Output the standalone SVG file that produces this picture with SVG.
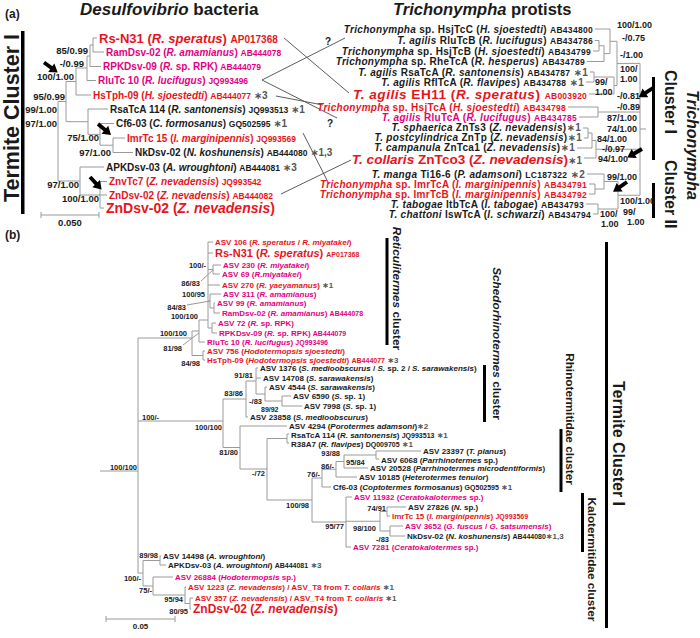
<svg xmlns="http://www.w3.org/2000/svg" width="700" height="638" viewBox="0 0 700 638">
<style>
text{font-family:"Liberation Sans","DejaVu Sans",Arial,sans-serif;font-weight:bold;fill:#1a1a1a}
.i{font-style:italic}
.r{fill:#e8141c}
.m{fill:#e4007f}
.k{fill:#1a1a1a}
.st{fill:#555}
.la{font-size:10px}
.ra{font-size:10px;letter-spacing:0.3px}
.lb{font-size:8px}
.sa{font-size:9.5px}
.sr{font-size:9px}
.sb{font-size:7.5px}
.a85{font-size:8.5px}
.a8{font-size:8.5px}
.a7{font-size:7px}
.e{text-anchor:end}
.mid{text-anchor:middle}
.tree{fill:none;stroke:#9a9a9a;stroke-width:1}
.link{fill:none;stroke:#4a4a4a;stroke-width:0.9}
.bar{fill:#000}
.ttl{font-size:16px}
</style>
<defs>
<path id="arw" d="M0,-1.9H9V-5.2L17,0L9,5.2V1.9H0Z" fill="#000"/>
</defs>

<g id="headings">
<text x="5" y="18" style="font-size:12px">(a)</text>
<text x="80" y="15" style="font-size:17px"><tspan class="i">Desulfovibrio</tspan> bacteria</text>
<text x="393" y="15" style="font-size:16.5px"><tspan class="i">Trichonympha</tspan> protists</text>
<text x="5" y="239" style="font-size:12px">(b)</text>
</g>

<g id="connectors">
<path class="tree" d="M93,38V52M90,45V66.5M90,45H93M87,56V80.5M87,56H90M76,68V95M76,68H87M66,81.5V121.5M66,81.5H76M66,121.7H88M88,109V134.4M88,134.4H100M100,123.5V145.2M100,145.2H113M113,138V152.5M100,181.5V208M80,167V195M80,195H100M58,101.5V181M58,101.5H66M58,181H80
M93,38H97M93,52H104M90,66.5H101M87,80.5H96M76,95H91M88,109H108M100,123.5H114M113,138H125M113,152.5H133M80,167H104M100,181.5H107M100,195H107M100,208H104"/>
<path class="tree" d="M41,215H99M41,212V218M99,212V218"/>
<path class="tree" d="M599,40.5V51M604,45.75V61.5M599,45.75H604M610,29V53.6M604,53.6H610M594,72V82M614,77V94M594,77H614M617,41.3V85.5M610,41.3H617M614,85.5H617M598,107V117M588,128V138M592,133V148M588,133H592M596,140.5V158M592,140.5H596M595,184V194M604,174V189M595,189H604M598,204V214M618,181.5V209M604,181.5H618M598,209H618M640,63.4V195.25M617,63.4H640M598,112H640M596,149.25H640M618,195.25H640M640,129H646
M595,29H610M595,40.5H599M593,51H599M587,61.5H604M590,72H594M586,82H594M589,94H614M568,107H598M579,117H598M583,128H588M584,138H588M577,148H592M584,158H596M587,174H604M589,184H595M589,194H595M586,204H598M593,214H598"/>
<path class="link" d="M284,38L349,93M262,80L345,38M262,80L337,118M276,96L323,105M303,133L329,184M281,194L351,160"/>
<path class="tree" d="M208,242H213M208,253H213M213,265H221M213,274H220M213,265V274M208,269.5H213M208,285H220M210,294H221M210,294V308M214,303H215M214,313H220M214,303V313M210,308H214M208,301H210M212,323H216M212,333H217M212,323V333M208,328H212M208,242V328M199,320H208M199,342H205M199,320V342M203,351H205M203,360H205M203,351V360M192,355.5H203M192,331V355.5M192,331H199M138,338H192
M256,368H258M256,378H261M256,368V394M265,387H267M265,387V401M256,394H265M282,396H291M282,406H302M282,396V406M265,401H282M246,417H248M246,381V417M246,381H256M223,399V447.5M223,399H246M138,421H223M240,426H287M240,426V469M223,447.5H240M287,434H289M287,443H289M287,434V443M267,438.5H287M267,438.5V500M240,469H267
M376,451H421M376,459H379M376,451V459M344,455H376M344,468H368M344,455V468M336,461.5H344M336,477H357M336,461.5V477M322,469.25H336M322,487H331M322,469.25V487M312,478H322M312,478V522M267,500H312M346,497H352M346,547H351M346,497V547M312,522H346M387,507H406M387,516H390M387,507V516M380,511.5H387M390,526H403M390,536H405M390,526V536M380,531H390M380,511.5V531M346,521.25H380
M160,556H161M160,565H166M160,556V565M143,560.5H160M153,577H173M153,577V595M143,586H153M185,587H186M185,587V603.5M153,595H185M190,598H193M190,609H191M190,598V609M185,603.5H190M143,560.5V586M138,573H143M138,338V573M100,471H138
M201,281L213,270M187,305L210,301M183,345L199,333"/>
<path class="tree" d="M106,619H175M106,616V622M175,616V622"/>
</g>

<g id="arrows">
<use href="#arw" transform="translate(44,62.5) rotate(36)"/>
<use href="#arw" transform="translate(98,124) rotate(40)"/>
<use href="#arw" transform="translate(90,177) rotate(47)"/>
<use href="#arw" transform="translate(653,88) rotate(147)"/>
<use href="#arw" transform="translate(642,149) rotate(150)"/>
<use href="#arw" transform="translate(627,182) rotate(145)"/>
</g>

<g id="clusters">
<rect class="bar" x="21" y="31" width="3.5" height="183"/>
<text transform="translate(19,118) rotate(-90)" class="mid" style="font-size:21.5px">Termite Cluster I</text>
<rect class="bar" x="652" y="77" width="3" height="83"/>
<rect class="bar" x="652" y="183" width="3" height="35"/>
<text transform="translate(665,70) rotate(90)" class="ttl">Cluster I</text>
<text transform="translate(665,160) rotate(90)" class="ttl">Cluster II</text>
<text transform="translate(687,90) rotate(90)" class="ttl i">Trichonympha</text>
<rect class="bar" x="385.5" y="238" width="3" height="107"/>
<text transform="translate(393,288.5) rotate(90)" class="mid" style="font-size:11.8px"><tspan class="i">Reticulitermes</tspan> cluster</text>
<rect class="bar" x="483" y="365" width="3" height="57"/>
<text transform="translate(493,343.5) rotate(90)" class="mid" style="font-size:11.8px"><tspan class="i">Schedorhinotermes</tspan> cluster</text>
<rect class="bar" x="559.5" y="429" width="3" height="63"/>
<text transform="translate(566,419) rotate(90)" class="mid" style="font-size:11.8px">Rhinotermitidae cluster</text>
<rect class="bar" x="581" y="493" width="3" height="59"/>
<text transform="translate(588,559.5) rotate(90)" class="mid" style="font-size:11.8px">Kalotermitidae cluster</text>
<rect class="bar" x="605" y="242" width="3" height="386"/>
<text transform="translate(613,443.5) rotate(90)" class="mid ttl">Termite Cluster I</text>
</g>

<g id="a-left">
<g id="a-RsN31"><text class="r" x="99" y="42.7" style="font-size:13px">Rs-N31 (<tspan class="i">R. speratus</tspan>) <tspan style="font-size:10px">AP017368</tspan></text></g>
<g id="a-RamDsv"><text class="m la" x="106" y="55.5">RamDsv-02 (<tspan class="i">R. amamianus</tspan>) <tspan class="a85">AB444078</tspan></text></g>
<g id="a-RPKDsv"><text class="m la" x="103" y="70">RPKDsv-09 (<tspan class="i">R.</tspan> sp. RPK) <tspan class="a85">AB444079</tspan></text></g>
<g id="a-RluTc"><text class="m la" x="98" y="84">RluTc 10 (<tspan class="i">R. lucifugus</tspan>) <tspan class="a85">JQ993496</tspan></text></g>
<g id="a-HsTph"><text class="r la" x="93" y="98.5">HsTph-09 (<tspan class="i">H. sjoestedti</tspan>) <tspan class="a85">AB444077</tspan> <tspan class="st">&#8727;3</tspan></text></g>
<g id="a-RsaTcA"><text class="k la" x="110" y="112.5">RsaTcA 114 (<tspan class="i">R. santonensis</tspan>) <tspan class="a85">JQ993513</tspan> <tspan class="st">&#8727;1</tspan></text></g>
<g id="a-Cf6"><text class="k la" x="116" y="127">Cf6-03 (<tspan class="i">C. formosanus</tspan>) <tspan class="a85">GQ502595</tspan> <tspan class="st">&#8727;1</tspan></text></g>
<g id="a-ImrTc"><text class="r la" x="127" y="141.5">ImrTc 15 (<tspan class="i">I. marginipennis</tspan>) <tspan class="a85">JQ993569</tspan></text></g>
<g id="a-NkDsv"><text class="k la" x="135" y="156">NkDsv-02 (<tspan class="i">N. koshunensis</tspan>) <tspan class="a85">AB444080</tspan>  <tspan class="st">&#8727;1,3</tspan></text></g>
<g id="a-APKDsv"><text class="k la" x="106" y="170.5">APKDsv-03 (<tspan class="i">A. wroughtoni</tspan>) <tspan class="a85">AB444081</tspan> <tspan class="st">&#8727;3</tspan></text></g>
<g id="a-ZnvTc7"><text class="r la" x="109" y="185">ZnvTc7 (<tspan class="i">Z. nevadensis</tspan>) <tspan class="a85">JQ993542</tspan></text></g>
<g id="a-ZnDsv"><text class="r la" x="109" y="198.5">ZnDsv-02 (<tspan class="i">Z. nevadensis</tspan>) <tspan class="a85">AB444082</tspan></text></g>
<g id="a-ZnDsvBig"><text class="r" x="106" y="213" style="font-size:14px">ZnDsv-02 (<tspan class="i">Z. nevadensis</tspan>)</text></g>
</g>

<g id="a-left-support">
<text class="sa e" x="88" y="54.4">85/0.99</text>
<text class="sa e" x="84" y="67.4">-/0.99</text>
<text class="sa e" x="74" y="80.4">100/1.00</text>
<text class="sa e" x="65" y="100.4">95/0.99</text>
<text class="sa e" x="57" y="113.4">99/1.00</text>
<text class="sa e" x="57" y="127.4">97/1.00</text>
<text class="sa e" x="99" y="141.4">75/1.00</text>
<text class="sa e" x="111" y="156.4">97/1.00</text>
<text class="sa e" x="79" y="188.4">97/1.00</text>
<text class="sa e" x="99" y="202.4">100/1.00</text>
<text class="sa mid" x="70" y="225.5">0.050</text>
<text class="la mid" x="328" y="44.5">?</text>
<text class="la mid" x="330" y="127">?</text>
</g>

<g id="a-right">
<g id="t-HsjTcC"><text class="k ra e" x="593" y="32.5"><tspan class="i">Trichonympha</tspan> sp. HsjTcC (<tspan class="i">H. sjoestedti</tspan>) <tspan class="a8">AB434800</tspan></text></g>
<g id="t-RluTcB"><text class="k ra e" x="593" y="44"><tspan class="i">T. agilis</tspan> RluTcB (<tspan class="i">R. lucifugus</tspan>) <tspan class="a8">AB434786</tspan></text></g>
<g id="t-HsjTcB"><text class="k ra e" x="591" y="54.5"><tspan class="i">Trichonympha</tspan> sp. HsjTcB (<tspan class="i">H. sjoestedti</tspan>) <tspan class="a8">AB434799</tspan></text></g>
<g id="t-RheTcA"><text class="k ra e" x="585" y="65"><tspan class="i">Trichonympha</tspan> sp. RheTcA (<tspan class="i">R. hesperus</tspan>) <tspan class="a8">AB434789</tspan></text></g>
<g id="t-RsaTcA"><text class="k ra e" x="588" y="75.5"><tspan class="i">T. agilis</tspan> RsaTcA (<tspan class="i">R. santonensis</tspan>) <tspan class="a8">AB434787</tspan> <tspan class="st">&#8727;1</tspan></text></g>
<g id="t-RflTcA"><text class="k ra e" x="584" y="85.5"><tspan class="i">T. agilis</tspan> RflTcA (<tspan class="i">R. flavipes</tspan>) <tspan class="a8">AB434788</tspan> <tspan class="st">&#8727;1</tspan></text></g>
<g id="t-EH11"><text class="r e" x="587" y="98.9" style="font-size:13.6px;letter-spacing:0.5px"><tspan class="i">T. agilis</tspan> EH11 (<tspan class="i">R. speratus</tspan>) <tspan class="a8" style="letter-spacing:0.2px">AB003920</tspan></text></g>
<g id="t-HsjTcA"><text class="r ra e" x="566" y="110.5"><tspan class="i">Trichonympha</tspan> sp. HsjTcA (<tspan class="i">H. sjoestedti</tspan>) <tspan class="a8">AB434798</tspan></text></g>
<g id="t-RluTcA"><text class="m ra e" x="577" y="120.5"><tspan class="i">T. agilis</tspan> RluTcA (<tspan class="i">R. lucifugus</tspan>) <tspan class="a8">AB434785</tspan></text></g>
<g id="t-ZnTs3"><text class="k ra e" x="581" y="131.3"><tspan class="i">T. sphaerica</tspan> ZnTs3 (<tspan class="i">Z. nevadensis</tspan>)<tspan class="st">&#8727;1</tspan></text></g>
<g id="t-ZnTp"><text class="k ra e" x="582" y="141.2"><tspan class="i">T. postcylindrica</tspan> ZnTp (<tspan class="i">Z. nevadensis</tspan>)<tspan class="st">&#8727;1</tspan></text></g>
<g id="t-ZnTca1"><text class="k ra e" x="575" y="151"><tspan class="i">T. campanula</tspan> ZnTca1 (<tspan class="i">Z. nevadensis</tspan>)<tspan class="st">&#8727;1</tspan></text></g>
<g id="t-ZnTco3"><text class="r e" x="582" y="164" style="font-size:13.6px"><tspan class="i">T. collaris</tspan> ZnTco3 (<tspan class="i">Z. nevadensis</tspan>)<tspan class="st" style="font-size:10px">&#8727;1</tspan></text></g>
<g id="t-Ti16"><text class="k ra e" x="585" y="177.5"><tspan class="i">T. manga</tspan> Ti16-6 (<tspan class="i">P. adamsoni</tspan>) <tspan class="a8">LC187322</tspan>  <tspan class="st">&#8727;2</tspan></text></g>
<g id="t-ImrTcA"><text class="r ra e" x="587" y="187.5"><tspan class="i">Trichonympha</tspan> sp. ImrTcA (<tspan class="i">I. marginipennis</tspan>) <tspan class="a8">AB434791</tspan></text></g>
<g id="t-ImrTcB"><text class="r ra e" x="587" y="197.5"><tspan class="i">Trichonympha</tspan> sp. ImrTcB (<tspan class="i">I. marginipennis</tspan>) <tspan class="a8">AB434792</tspan></text></g>
<g id="t-ItbTcA"><text class="k ra e" x="584" y="207.5"><tspan class="i">T. tabogae</tspan> ItbTcA (<tspan class="i">I. tabogae</tspan>) <tspan class="a8">AB434793</tspan></text></g>
<g id="t-IswTcA"><text class="k ra e" x="591" y="217.5"><tspan class="i">T. chattoni</tspan> IswTcA (<tspan class="i">I. schwarzi</tspan>) <tspan class="a8">AB434794</tspan></text></g>
</g>

<g id="a-right-support">
<text class="sr" x="617" y="28.2">100/1.00</text>
<text class="sr" x="622" y="41.2">-/0.75</text>
<text class="sr" x="620" y="58.2">-/1.00</text>
<text class="sr" x="620" y="71.7">100/</text>
<text class="sr" x="620" y="82.2">1.00</text>
<text class="sr" x="595" y="84.5">99/</text>
<text class="sr" x="595" y="94.5">1.00</text>
<text class="sr" x="617" y="98.6">-/0.81</text>
<text class="sr" x="617" y="110.2">-/0.89</text>
<text class="sr" x="607" y="121.2">87/1.00</text>
<text class="sr" x="607" y="132.2">74/1.00</text>
<text class="sr" x="597" y="141.8">84/1.00</text>
<text class="sr" x="602" y="151.6">-/0.97</text>
<text class="sr" x="598" y="162.4">94/1.00</text>
<text class="sr" x="607" y="180.2">99/1.00</text>
<text class="sr" x="620" y="204.2">100/1.00</text>
<text class="sr" x="623" y="214.5">99/</text>
<text class="sr" x="627" y="225">1.00</text>
<text class="sr" x="600" y="217.4">100/</text>
<text class="sr" x="601" y="227.4">1.00</text>
</g>

<g id="b-leaves">
<g id="b1"><text class="r lb" x="215" y="244.9">ASV 106 (<tspan class="i">R. speratus</tspan> / <tspan class="i">R. miyatakei</tspan>)</text></g>
<g id="b2"><text class="r" x="215" y="257" style="font-size:11px">Rs-N31 (<tspan class="i">R. speratus</tspan>) <tspan class="a7">AP017368</tspan></text></g>
<g id="b3"><text class="m lb" x="223" y="267.9">ASV 230 (<tspan class="i">R. miyatakei</tspan>)</text></g>
<g id="b4"><text class="m lb" x="222" y="276.9">ASV 69 (<tspan class="i">R.miyatakei</tspan>)</text></g>
<g id="b5"><text class="r lb" x="222" y="287.9">ASV 270 (<tspan class="i">R. yaeyamanus</tspan>) <tspan class="st">&#8727;1</tspan></text></g>
<g id="b6"><text class="m lb" x="223" y="296.9">ASV 311 (<tspan class="i">R. amamianus</tspan>)</text></g>
<g id="b7"><text class="m lb" x="217" y="305.9">ASV 99 (<tspan class="i">R. amamianus</tspan>)</text></g>
<g id="b8"><text class="m lb" x="222" y="315.9">RamDsv-02 (<tspan class="i">R. amamianus</tspan>) <tspan class="a7">AB444078</tspan></text></g>
<g id="b9"><text class="m lb" x="218" y="325.9">ASV 72 (<tspan class="i">R.</tspan> sp. RPK)</text></g>
<g id="b10"><text class="m lb" x="219" y="335.9">RPKDsv-09 (<tspan class="i">R.</tspan> sp. RPK) <tspan class="a7">AB444079</tspan></text></g>
<g id="b11"><text class="m lb" x="207" y="344.9">RluTc 10 (<tspan class="i">R. lucifugus</tspan>) <tspan class="a7">JQ993496</tspan></text></g>
<g id="b12"><text class="r lb" x="207" y="353.9">ASV 756 (<tspan class="i">Hodotermopsis sjoestedti</tspan>)</text></g>
<g id="b13"><text class="r lb" x="207" y="362.9">HsTph-09 (<tspan class="i">Hodotermopsis sjoestedti</tspan>) <tspan class="a7">AB444077</tspan> <tspan class="st">&#8727;3</tspan></text></g>
<g id="b14"><text class="k lb" x="260" y="370.9">ASV 1376 (<tspan class="i">S. medioobscurus</tspan> / <tspan class="i">S.</tspan> sp. 2 / <tspan class="i">S. sarawakensis</tspan>)</text></g>
<g id="b15"><text class="k lb" x="263" y="380.9">ASV 14708 (<tspan class="i">S. sarawakensis</tspan>)</text></g>
<g id="b16"><text class="k lb" x="269" y="389.9">ASV 4544 (<tspan class="i">S. sarawakensis</tspan>)</text></g>
<g id="b17"><text class="k lb" x="293" y="398.9">ASV 6590 (<tspan class="i">S.</tspan> sp. 1)</text></g>
<g id="b18"><text class="k lb" x="304" y="408.6">ASV 7998 (<tspan class="i">S.</tspan> sp. 1)</text></g>
<g id="b19"><text class="k lb" x="250" y="420.3">ASV 23858 (<tspan class="i">S. medioobscurus</tspan>)</text></g>
<g id="b20"><text class="k lb" x="289" y="429.1">ASV 4294 (<tspan class="i">Porotermes adamsoni</tspan>)<tspan class="st">&#8727;2</tspan></text></g>
<g id="b21"><text class="k lb" x="291" y="437.9">RsaTcA 114 (<tspan class="i">R. santonensis</tspan>) <tspan class="a7">JQ993513</tspan> <tspan class="st">&#8727;1</tspan></text></g>
<g id="b22"><text class="k lb" x="291" y="446.6">R38A7 (<tspan class="i">R. flavipes</tspan>) <tspan class="a7">DQ009705</tspan> <tspan class="st">&#8727;1</tspan></text></g>
<g id="b23"><text class="k lb" x="423" y="453.9">ASV 23397 (<tspan class="i">T. planus</tspan>)</text></g>
<g id="b24"><text class="k lb" x="381" y="462.6">ASV 6068 (<tspan class="i">Parrhinotermes</tspan> sp.)</text></g>
<g id="b25"><text class="k lb" x="370" y="471.3">ASV 20528 (<tspan class="i">Parrhinotermes microdentiformis</tspan>)</text></g>
<g id="b26"><text class="k lb" x="359" y="480.2">ASV 10185 (<tspan class="i">Heterotermes tenuior</tspan>)</text></g>
<g id="b27"><text class="k lb" x="333" y="489.9">Cf6-03 (<tspan class="i">Coptotermes formosanus</tspan>) <tspan class="a7">GQ502595</tspan> <tspan class="st">&#8727;1</tspan></text></g>
<g id="b28"><text class="m lb" x="354" y="499.9">ASV 11932 (<tspan class="i">Ceratokalotermes</tspan> sp.)</text></g>
<g id="b29"><text class="k lb" x="408" y="509.9">ASV 27826 (<tspan class="i">N.</tspan> sp.)</text></g>
<g id="b30"><text class="r lb" x="392" y="518.9">ImrTc 15 (<tspan class="i">I. marginipennis</tspan>) <tspan class="a7">JQ993569</tspan></text></g>
<g id="b31"><text class="m lb" x="405" y="528.9">ASV 3652 (<tspan class="i">G. fuscus</tspan> / <tspan class="i">G. satsumensis</tspan>)</text></g>
<g id="b32"><text class="k lb" x="407" y="538.9">NkDsv-02 (<tspan class="i">N. koshunensis</tspan>) <tspan class="a7">AB444080</tspan><tspan class="st">&#8727;1,3</tspan></text></g>
<g id="b33"><text class="m lb" x="353" y="549.9">ASV 7281 (<tspan class="i">Ceratokalotermes</tspan> sp.)</text></g>
<g id="b34"><text class="k lb" x="163" y="558.9">ASV 14498 (<tspan class="i">A. wroughtoni</tspan>)</text></g>
<g id="b35"><text class="k lb" x="168" y="567.9">APKDsv-03 (<tspan class="i">A. wroughtoni</tspan>) <tspan class="a7">AB444081</tspan> <tspan class="st">&#8727;3</tspan></text></g>
<g id="b36"><text class="m lb" x="175" y="579.9">ASV 26884 (<tspan class="i">Hodotermopsis</tspan> sp.)</text></g>
<g id="b37"><text class="r lb" x="188" y="589.9">ASV 1223 (<tspan class="i">Z. nevadensis</tspan>) / ASV_T8 from <tspan class="i">T. collaris</tspan> <tspan class="st">&#8727;1</tspan></text></g>
<g id="b38"><text class="r lb" x="195" y="600.9">ASV 357 (<tspan class="i">Z. nevadensis</tspan>) / ASV_T4 from <tspan class="i">T. collaris</tspan> <tspan class="st">&#8727;1</tspan></text></g>
<g id="b39"><text class="r" x="193" y="613.3" style="font-size:12px">ZnDsv-02 (<tspan class="i">Z. nevadensis</tspan>)</text></g>
</g>

<g id="b-support">
<text class="sb e" x="206" y="267.7">100/-</text>
<text class="sb e" x="200" y="285.7">86/83</text>
<text class="sb e" x="205" y="296.7">100/95</text>
<text class="sb e" x="186" y="309.7">84/83</text>
<text class="sb e" x="198" y="319.2">100/100</text>
<text class="sb e" x="187" y="335.7">100/100</text>
<text class="sb e" x="182" y="350.7">81/98</text>
<text class="sb e" x="200" y="365.7">84/98</text>
<text class="sb e" x="253" y="377.7">91/81</text>
<text class="sb e" x="243" y="395.7">83/86</text>
<text class="sb e" x="262" y="404.2">-/83</text>
<text class="sb" x="261" y="411.6" style="font-size:7px">89/92</text>
<text class="sb" x="142" y="419.7">100/-</text>
<text class="sb e" x="222" y="429.7">100/100</text>
<text class="sb e" x="238" y="454.7">81/80</text>
<text class="sb e" x="265" y="475.7">-/72</text>
<text class="sb e" x="340" y="455.7">93/88</text>
<text class="sb" x="346" y="465">95/84</text>
<text class="sb e" x="334" y="468.5">86/-</text>
<text class="sb e" x="320" y="476.7">76/-</text>
<text class="sb e" x="309" y="507.7">100/98</text>
<text class="sb e" x="344" y="528.7">95/77</text>
<text class="sb" x="353" y="530.7">98/100</text>
<text class="sb e" x="386" y="510.7">74/91</text>
<text class="sb e" x="389" y="541.7">-/83</text>
<text class="sb e" x="137" y="469.7">100/100</text>
<text class="sb e" x="158" y="557.7">89/98</text>
<text class="sb e" x="141" y="580.7">100/-</text>
<text class="sb e" x="152" y="592.7">75/-</text>
<text class="sb e" x="183" y="601.7">95/94</text>
<text class="sb e" x="188" y="613.7">80/95</text>
<text class="mid" x="140.5" y="629" style="font-size:8px">0.05</text>
</g>
</svg>
